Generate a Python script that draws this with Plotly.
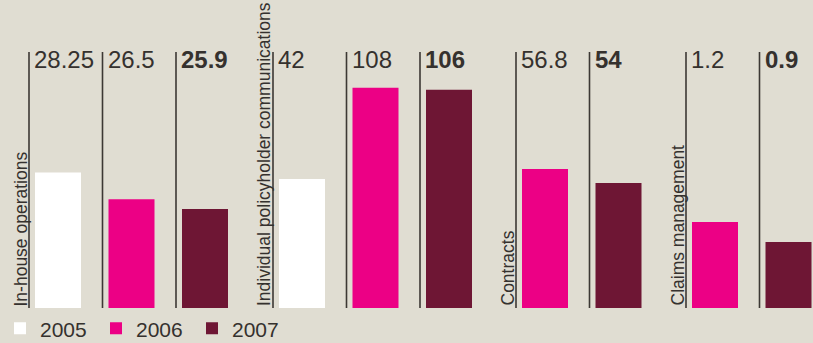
import plotly.graph_objects as go

# --- data -------------------------------------------------------------
categories = ["In-house operations", "Individual policyholder communications",
              "Contracts", "Claims management"]
years = ["2005", "2006", "2007"]
values_2005 = [28.25, 42, None, None]
values_2006 = [26.5, 108, 56.8, 1.2]
values_2007 = [25.9, 106, 54, 0.9]

# --- styling ----------------------------------------------------------
W, H = 813, 343
BG = "#e0ddd2"
INK = "#35312e"
RULE = "#3c3834"
FONT = "Liberation Sans, Arial, sans-serif"
colors = {"2005": "#ffffff", "2006": "#ec0085", "2007": "#6e1634"}
series = {"2005": values_2005, "2006": values_2006, "2007": values_2007}

SLOT = 73.5            # px per bar slot
BAR_W = 46 / SLOT      # bar width in category units
RULE_OFF = 29 / SLOT   # rule sits this far left of each bar centre
# each panel: left edge (px) of its first slot, independent log scale
panel_left = [21.25, 265.25, 508.25, 678.25]
y_ranges = [[1.3108, 1.5758], [1.042, 2.195], [1.5363, 1.9379], [-0.458, 1.141]]
PLOT_TOP, PLOT_BOTTOM = 52, 308   # px


def px_x(x):
    return x / W


def px_y(y):
    return 1 - y / H


fig = go.Figure()
shapes, annotations = [], []
legend_done = set()

for g, cat in enumerate(categories):
    xa = "x" if g == 0 else f"x{g + 1}"
    ya = "y" if g == 0 else f"y{g + 1}"
    present = [yr for yr in years if series[yr][g] is not None]
    n = len(present)
    left = panel_left[g]
    right = min(left + n * SLOT, W)
    xr = [-0.5, -0.5 + (right - left) / SLOT]

    fig.update_layout(**{
        ("xaxis" if g == 0 else f"xaxis{g + 1}"): dict(
            domain=[px_x(left), px_x(right)], range=xr, type="category",
            categoryorder="array", categoryarray=present,
            visible=False, anchor=ya, fixedrange=True),
        ("yaxis" if g == 0 else f"yaxis{g + 1}"): dict(
            domain=[px_y(PLOT_BOTTOM), px_y(PLOT_TOP)], type="log",
            range=y_ranges[g], visible=False, anchor=xa, fixedrange=True),
    })

    for i, yr in enumerate(present):
        v = series[yr][g]
        fig.add_trace(go.Bar(
            x=[yr], y=[v], xaxis=xa, yaxis=ya, width=BAR_W,
            marker=dict(color=colors[yr], line=dict(width=0)),
            name=yr, legendgroup=yr, showlegend=yr not in legend_done,
            hoverinfo="skip"))
        legend_done.add(yr)

        # thin rule to the left of each bar
        shapes.append(dict(
            type="line", xref=xa, yref="paper",
            x0=i - RULE_OFF, x1=i - RULE_OFF,
            y0=px_y(PLOT_BOTTOM), y1=px_y(PLOT_TOP),
            line=dict(color=RULE, width=1.6)))

        # value label at the top of the rule
        txt = f"{v:g}"
        if yr == years[-1]:
            txt = f"<b>{txt}</b>"
        annotations.append(dict(
            xref=xa, yref="paper", x=i - RULE_OFF, y=px_y(PLOT_TOP),
            xanchor="left", yanchor="top", xshift=3, yshift=8,
            text=txt, showarrow=False,
            font=dict(family=FONT, size=24, color=INK)))

    # panel title, rotated, sitting against the first rule
    annotations.append(dict(
        xref=xa, yref="paper", x=-RULE_OFF, y=px_y(PLOT_BOTTOM),
        xanchor="right", yanchor="bottom", xshift=3,
        text=cat, textangle=-90, showarrow=False,
        font=dict(family=FONT, size=17.5, color=INK)))

fig.update_layout(
    width=W, height=H,
    margin=dict(l=0, r=0, t=0, b=0, autoexpand=False),
    paper_bgcolor=BG, plot_bgcolor=BG,
    shapes=shapes, annotations=annotations,
    barmode="overlay",
    showlegend=True,
    legend=dict(orientation="h", x=0, xanchor="left",
                y=-0.018, yanchor="bottom",
                font=dict(family=FONT, size=21, color=INK),
                entrywidth=51, entrywidthmode="pixels", itemwidth=30,
                itemclick=False, itemdoubleclick=False,
                bgcolor="rgba(0,0,0,0)", tracegroupgap=0),
)

fig.write_html("out.html", config={"displayModeBar": False})
